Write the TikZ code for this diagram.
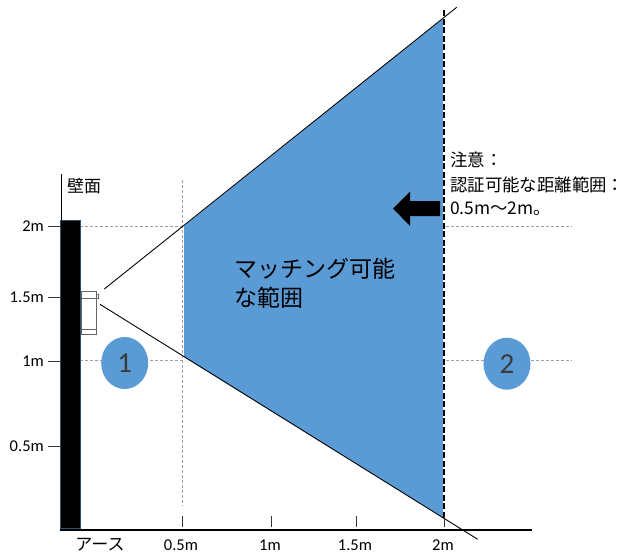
\documentclass[tikz,border=0pt]{standalone}
\usepackage{fontspec}
\setmainfont{Carlito}
\newfontfamily\jp{Noto Sans CJK JP}
\usetikzlibrary{shapes.geometric}
\definecolor{zone}{HTML}{5B9BD5}
\definecolor{wallrim}{HTML}{2F4F6F}
\definecolor{numgray}{HTML}{3A3A3A}
\tikzset{
  guide/.style={draw=gray!75, line width=0.8pt, dash pattern=on 3pt off 2pt},
  tickln/.style={draw=black!80, line width=1pt},
  axlabel/.style={inner sep=0pt, font=\fontsize{16.5}{18}\selectfont},
  jplabel/.style={inner sep=0pt, anchor=west, font=\jp\fontsize{17}{20}\selectfont},
  notetext/.style={inner sep=0pt, anchor=west, font=\jp\fontsize{17.4}{18}\selectfont},
  zonecircle/.style={ellipse, fill=zone, minimum width=47pt, minimum height=52pt, inner sep=0pt,
    font=\fontsize{29}{30}\selectfont, text=numgray},
  ray/.style={draw=black, line width=0.9pt},
}
\begin{document}
\begin{tikzpicture}[x=1pt,y=-1pt]
\useasboundingbox (0,0) rectangle (631,554);
% coordinates
\coordinate (zA) at (184,226);
\coordinate (zB) at (444,18);
\coordinate (zC) at (444,518);
\coordinate (zD) at (184,357);
% detection zone
\fill[zone] (zA) -- (zB) -- (zC) -- (zD) -- cycle;
% guides
\draw[guide] (80,226) -- (185,226);
\draw[guide] (80,360) -- (185,360);
\draw[guide] (182,180) -- (182,506);
\draw[guide] (446,226) -- (572,226);
\draw[guide] (446,360) -- (572,360);
% right boundary
\coordinate (rT) at (444,10);
\coordinate (rB) at (444,518);
\draw[white, line width=1.6pt] (rT) -- (rB);
\draw[black, line width=1.6pt, dash pattern=on 6pt off 2.5pt] (rT) -- (rB);
% rays
\coordinate (u0) at (104.3,289);
\coordinate (u1) at (456.7,7.3);
\coordinate (l0) at (100,304.3);
\coordinate (l1) at (477.7,539.3);
\draw[ray] (u0) -- (u1);
\draw[ray] (l0) -- (l1);
% axis
\coordinate (ax0) at (60,530);
\coordinate (ax1) at (532,530);
\draw[line width=1.3pt] (ax0) -- (ax1);
% wall
\node (wall) [draw=wallrim, line width=0.8pt, fill=black, inner sep=0pt, minimum width=20pt, minimum height=308pt] at (70.5,374) {};
\coordinate (wtop) at (61,174);
\coordinate (wbase) at (61,220);
\draw[line width=1pt] (wtop) -- (wbase);
\node[jplabel] (wlab) at (67,186.5) {壁面};
% y ticks
\foreach \y/\t in {226/2m, 297/1.5m, 361/1m, 446/0.5m}{
  \draw[tickln] (48,\y) -- (60,\y);
  \node[axlabel, anchor=east] at (44,\y) {\t};
}
% x ticks
\foreach \x/\t in {182/0.5m, 271/1m, 356/1.5m, 444/2m}{
  \draw[tickln] (\x,516) -- (\x,527);
  \node[axlabel] at (\x-1,545) {\t};
}
\node[jplabel, anchor=center] (earth) at (100,545) {アース};
% camera
\node (cam) [draw=gray!80!black, line width=0.8pt, fill=white, inner sep=0pt, minimum width=15pt, minimum height=43pt] at (88.5,312.5) {};
\draw[gray!80!black, line width=0.8pt] (81,298) -- (96,298);
\draw[gray!80!black, line width=0.8pt] (81,329) -- (96,329);
\draw[gray!80!black, line width=0.7pt] (96,294.5) rectangle (98.5,298.5);
% circles
\node[zonecircle] (c1) at (124.7,363) {1};
\node[zonecircle] (c2) at (507,363.7) {2};
% arrow
\fill[black] (393,208.5) -- (410,191.5) -- (410,201) -- (440,201) -- (440,216) -- (410,216) -- (410,226) -- cycle;
% main label
\node[inner sep=0pt, anchor=west, font=\jp\fontsize{23}{29}\selectfont, align=left] (mlab) at (234,283) {マッチング可能\\な範囲};
% note
\node[notetext] (n1) at (450,160) {注意：};
\node[notetext] (n2) at (450,185) {認証可能な距離範囲：};
\node[notetext] (n3) at (450,209) {0.5m～2m。};
\end{tikzpicture}
\end{document}
